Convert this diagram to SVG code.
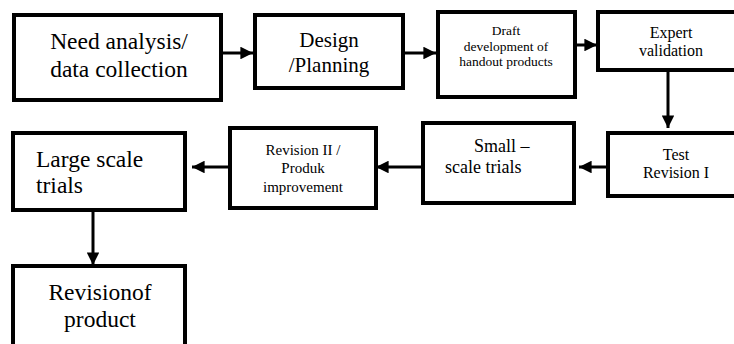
<svg xmlns="http://www.w3.org/2000/svg" width="734" height="344" viewBox="0 0 734 344">
<style>
.box{fill:#fff;stroke:#000;stroke-width:4}
.t{font-family:'Liberation Serif','Times New Roman',serif;fill:#000}
.c{text-anchor:middle}
.con{stroke:#000;stroke-width:3;fill:none}
</style>
<defs>
<marker id="ah" viewBox="0 0 10 10" refX="10" refY="5" markerWidth="4.2" markerHeight="4.2" markerUnits="strokeWidth" orient="auto">
<path d="M0,0 L10,5 L0,10 z" fill="#000"/>
</marker>
</defs>
<rect width="734" height="344" fill="#fff"/>
<g id="connectors">
<line class="con" x1="222" y1="53" x2="253" y2="53" marker-end="url(#ah)"/>
<line class="con" x1="403" y1="53" x2="436" y2="53" marker-end="url(#ah)"/>
<line class="con" x1="575" y1="45" x2="597" y2="45" marker-end="url(#ah)"/>
<line class="con" x1="668" y1="70" x2="668" y2="128" marker-end="url(#ah)"/>
<line class="con" x1="608" y1="167" x2="579" y2="167" marker-end="url(#ah)"/>
<line class="con" x1="423" y1="167" x2="376" y2="167" marker-end="url(#ah)"/>
<line class="con" x1="230" y1="167" x2="192" y2="167" marker-end="url(#ah)"/>
<line class="con" x1="93" y1="210" x2="93" y2="265" marker-end="url(#ah)"/>
</g>
<g id="need-analysis">
<rect class="box" x="14" y="15" width="207" height="85"/>
<text class="t c" x="119" y="49" font-size="23.5">Need analysis/</text>
<text class="t c" x="119" y="77" font-size="23.5">data collection</text>
</g>
<g id="design">
<rect class="box" x="255" y="15" width="148" height="73"/>
<text class="t c" x="329" y="47" font-size="21">Design</text>
<text class="t c" x="329" y="72" font-size="21">/Planning</text>
</g>
<g id="draft">
<rect class="box" x="438" y="12" width="137" height="85"/>
<text class="t c" x="506" y="35" font-size="13.5">Draft</text>
<text class="t c" x="506" y="51" font-size="13.5">development of</text>
<text class="t c" x="506" y="66" font-size="13.5">handout products</text>
</g>
<g id="expert">
<rect class="box" x="598" y="12" width="140" height="58"/>
<text class="t c" x="671" y="38" font-size="16">Expert</text>
<text class="t c" x="671" y="56" font-size="16">validation</text>
</g>
<g id="test-revision">
<rect class="box" x="608" y="133" width="130" height="63"/>
<text class="t c" x="676" y="160" font-size="16">Test</text>
<text class="t c" x="676" y="178" font-size="16">Revision I</text>
</g>
<g id="small-scale">
<rect class="box" x="423" y="123" width="151" height="80"/>
<text class="t" x="474" y="152" font-size="18">Small –</text>
<text class="t" x="445" y="173" font-size="18">scale trials</text>
</g>
<g id="revision-ii">
<rect class="box" x="230" y="128" width="146" height="80"/>
<text class="t c" x="303" y="155" font-size="15">Revision II /</text>
<text class="t c" x="303" y="173" font-size="15">Produk</text>
<text class="t c" x="303" y="192" font-size="15">improvement</text>
</g>
<g id="large-scale">
<rect class="box" x="13" y="133" width="172" height="77"/>
<text class="t" x="36" y="167" font-size="23.5">Large scale</text>
<text class="t" x="36" y="193" font-size="23.5">trials</text>
</g>
<g id="revision-product">
<rect class="box" x="13" y="266" width="172" height="90"/>
<text class="t c" x="100" y="300" font-size="23.5">Revisionof</text>
<text class="t c" x="100" y="327" font-size="23.5">product</text>
</g>
</svg>
